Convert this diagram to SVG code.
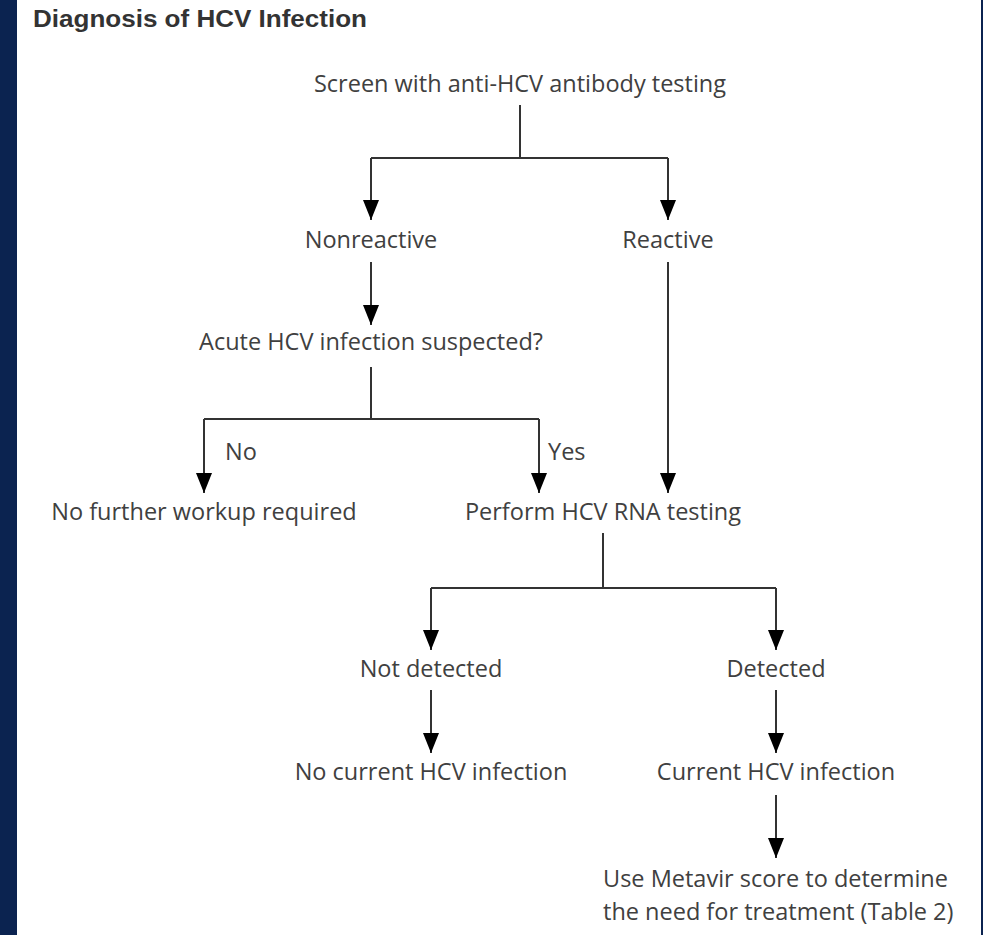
<svg xmlns="http://www.w3.org/2000/svg" width="983" height="935" viewBox="0 0 983 935">
<defs>
<style>
.t{font-family:"Open Sans","Noto Sans","Liberation Sans",sans-serif;font-size:23.5px;fill:#404040}
.m{text-anchor:middle}
.ttl{font-family:"Liberation Sans",Arial,sans-serif;font-size:24.5px;font-weight:bold;fill:#333}
.c{fill:none;stroke:#333;stroke-width:2}
</style>
<marker id="ah" markerUnits="userSpaceOnUse" markerWidth="20" markerHeight="16" refX="20" refY="8" orient="auto">
<path d="M0,0 L20,8 L0,16 z" fill="#000"/>
</marker>
</defs>
<rect x="0" y="0" width="983" height="935" fill="#fff"/>
<rect x="0" y="0" width="17" height="935" fill="#0b2350"/>
<rect x="981" y="0" width="2" height="935" fill="#0b2350"/>
<text class="ttl" x="33" y="27" textLength="334" lengthAdjust="spacingAndGlyphs">Diagnosis of HCV Infection</text>
<g id="connectors">
<path class="c" d="M520,105 V158 M371,158 H668"/>
<path class="c" d="M371,158 V220" marker-end="url(#ah)"/>
<path class="c" d="M668,158 V220" marker-end="url(#ah)"/>
<path class="c" d="M371,262 V325" marker-end="url(#ah)"/>
<path class="c" d="M371,367 V419 M204,419 H539"/>
<path class="c" d="M204,419 V493" marker-end="url(#ah)"/>
<path class="c" d="M539,419 V493" marker-end="url(#ah)"/>
<path class="c" d="M668,262 V493" marker-end="url(#ah)"/>
<path class="c" d="M603,533 V588 M431,588 H776"/>
<path class="c" d="M431,588 V650" marker-end="url(#ah)"/>
<path class="c" d="M776,588 V650" marker-end="url(#ah)"/>
<path class="c" d="M431,690 V753" marker-end="url(#ah)"/>
<path class="c" d="M776,690 V753" marker-end="url(#ah)"/>
<path class="c" d="M776,795 V858" marker-end="url(#ah)"/>
<text class="t" x="225" y="460">No</text>
<text class="t" x="548" y="460">Yes</text>
</g>
<g id="screen"><text class="t m" x="520" y="92">Screen with anti-HCV antibody testing</text></g>
<g id="nonreactive"><text class="t m" x="371" y="248">Nonreactive</text></g>
<g id="reactive"><text class="t m" x="668" y="248">Reactive</text></g>
<g id="acute"><text class="t m" x="371" y="350">Acute HCV infection suspected?</text></g>
<g id="nofurther"><text class="t m" x="204" y="520">No further workup required</text></g>
<g id="perform"><text class="t m" x="603" y="520">Perform HCV RNA testing</text></g>
<g id="notdetected"><text class="t m" x="431" y="677">Not detected</text></g>
<g id="detected"><text class="t m" x="776" y="677">Detected</text></g>
<g id="nocurrent"><text class="t m" x="431" y="780">No current HCV infection</text></g>
<g id="current"><text class="t m" x="776" y="780">Current HCV infection</text></g>
<g id="metavir"><text class="t" x="603" y="887">Use Metavir score to determine</text><text class="t" x="603" y="920">the need for treatment (Table 2)</text></g>
</svg>
